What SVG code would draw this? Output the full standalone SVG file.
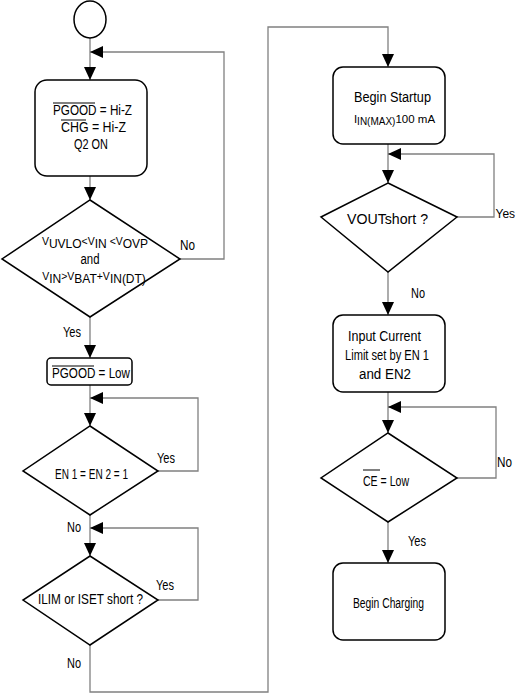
<svg xmlns="http://www.w3.org/2000/svg" width="517" height="694" viewBox="0 0 517 694">
<style>
.shape{fill:#fff;stroke:#000;stroke-width:1.5}
.conn{fill:none;stroke:#808080;stroke-width:1.3}
.ol{stroke:#000;stroke-width:1}
text{font-family:"Liberation Sans",Arial,sans-serif;fill:#000}
.t{font-size:14px;text-anchor:middle}
.c{font-size:12px;text-anchor:middle}
.lbl{font-size:14px}
.sm{font-size:10.5px}
</style>
<defs>
<marker id="ah" markerUnits="userSpaceOnUse" markerWidth="13" markerHeight="12" refX="13" refY="6" orient="auto">
<path d="M0,0 L13,6 L0,12 z" fill="#000"/>
</marker>
</defs>
<rect width="517" height="694" fill="#fff"/>
<g id="connectors">
<path class="conn" d="M90,38 V80" marker-end="url(#ah)"/>
<path class="conn" d="M90,176 V200" marker-end="url(#ah)"/>
<path class="conn" d="M180,259 H224 V52 H90" marker-end="url(#ah)"/>
<path class="conn" d="M90,317 V358" marker-end="url(#ah)"/>
<path class="conn" d="M90,385 V426" marker-end="url(#ah)"/>
<path class="conn" d="M158,471 H198 V398 H90" marker-end="url(#ah)"/>
<path class="conn" d="M90,515 V556" marker-end="url(#ah)"/>
<path class="conn" d="M158,600 H198 V528 H90" marker-end="url(#ah)"/>
<path class="conn" d="M90,645 V692 H268 V27 H388 V67" marker-end="url(#ah)"/>
<path class="conn" d="M388,144 V183" marker-end="url(#ah)"/>
<path class="conn" d="M457,217 H494 V154 H388" marker-end="url(#ah)"/>
<path class="conn" d="M388,272 V315" marker-end="url(#ah)"/>
<path class="conn" d="M388,392 V433" marker-end="url(#ah)"/>
<path class="conn" d="M457,478 H496 V407 H388" marker-end="url(#ah)"/>
<path class="conn" d="M388,522 V563" marker-end="url(#ah)"/>
<text class="lbl" x="180" y="250" textLength="15" lengthAdjust="spacingAndGlyphs">No</text>
<text class="lbl" x="63" y="337" textLength="18" lengthAdjust="spacingAndGlyphs">Yes</text>
<text class="lbl" x="157" y="463" textLength="18" lengthAdjust="spacingAndGlyphs">Yes</text>
<text class="lbl" x="67" y="532" textLength="14" lengthAdjust="spacingAndGlyphs">No</text>
<text class="lbl" x="156" y="590" textLength="18" lengthAdjust="spacingAndGlyphs">Yes</text>
<text class="lbl" x="67" y="668" textLength="14" lengthAdjust="spacingAndGlyphs">No</text>
<text x="495.5" y="218" font-size="12">Yes</text>
<text class="lbl" x="411" y="298" textLength="14" lengthAdjust="spacingAndGlyphs">No</text>
<text class="lbl" x="497" y="467" textLength="15" lengthAdjust="spacingAndGlyphs">No</text>
<text class="lbl" x="408" y="546" textLength="18" lengthAdjust="spacingAndGlyphs">Yes</text>
</g>
<g id="start">
<ellipse class="shape" cx="90" cy="19.5" rx="16" ry="18.5"/>
</g>
<g id="init">
<rect class="shape" x="35" y="80" width="112" height="96" rx="12"/>
<text class="t" x="92.5" y="115" textLength="79" lengthAdjust="spacingAndGlyphs">PGOOD = Hi-Z</text>
<line class="ol" x1="53" y1="103" x2="95" y2="103"/>
<text class="t" x="93.5" y="132" textLength="65" lengthAdjust="spacingAndGlyphs">CHG = Hi-Z</text>
<line class="ol" x1="61" y1="120" x2="86" y2="120"/>
<text class="t" x="91" y="149" textLength="34" lengthAdjust="spacingAndGlyphs">Q2 ON</text>
</g>
<g id="vin-check">
<polygon class="shape" points="90,200 180,259 90,317 2,259"/>
<text class="c" x="95" y="248"><tspan class="sm" dy="-3">V</tspan><tspan dy="3">UVLO</tspan><tspan class="sm" dy="-3">&lt;V</tspan><tspan dy="3">IN</tspan><tspan class="sm" dy="-3"> &lt;V</tspan><tspan dy="3">OVP</tspan></text>
<text class="t" x="90" y="264" textLength="19" lengthAdjust="spacingAndGlyphs">and</text>
<text class="c" x="94" y="283"><tspan class="sm" dy="-3">V</tspan><tspan dy="3">IN</tspan><tspan class="sm" dy="-3">&gt;V</tspan><tspan dy="3">BAT</tspan><tspan class="sm" dy="-3">+V</tspan><tspan dy="3">IN(DT)</tspan></text>
</g>
<g id="pgood-low">
<rect class="shape" x="47" y="358" width="85" height="27" rx="4"/>
<text class="t" x="91" y="378" textLength="78" lengthAdjust="spacingAndGlyphs">PGOOD = Low</text>
<line class="ol" x1="52" y1="366" x2="94" y2="366"/>
</g>
<g id="en-check">
<polygon class="shape" points="90,426 158,471 90,515 23,471"/>
<text class="t" x="91.5" y="479" textLength="73" lengthAdjust="spacingAndGlyphs">EN 1 = EN 2 = 1</text>
</g>
<g id="short-check">
<polygon class="shape" points="90,556 158,600 90,645 23,600"/>
<text class="t" x="90.5" y="604" textLength="105" lengthAdjust="spacingAndGlyphs">ILIM or ISET short  ?</text>
</g>
<g id="startup">
<rect class="shape" x="333" y="67" width="112" height="77" rx="10"/>
<text class="t" x="392.5" y="102" textLength="77" lengthAdjust="spacingAndGlyphs">Begin Startup</text>
<text x="394.5" y="123" font-size="11.5" text-anchor="middle">I<tspan font-size="10" dy="2">IN(MAX)</tspan><tspan dy="-2">100 mA</tspan></text>
</g>
<g id="vout-check">
<polygon class="shape" points="388,183 457,217 388,272 321,217"/>
<text class="t" x="387.5" y="224" textLength="81" lengthAdjust="spacingAndGlyphs">VOUTshort ?</text>
</g>
<g id="input-limit">
<rect class="shape" x="333" y="315" width="112" height="77" rx="10"/>
<text class="t" x="384.5" y="341" textLength="73" lengthAdjust="spacingAndGlyphs">Input Current</text>
<text class="t" x="387" y="360" textLength="84" lengthAdjust="spacingAndGlyphs">Limit set by EN 1</text>
<text class="t" x="385" y="379" textLength="52" lengthAdjust="spacingAndGlyphs">and EN2</text>
</g>
<g id="ce-check">
<polygon class="shape" points="388,433 457,478 388,522 321,478"/>
<text class="t" x="386" y="486" textLength="46" lengthAdjust="spacingAndGlyphs">CE = Low</text>
<line class="ol" x1="363" y1="470" x2="380" y2="470"/>
</g>
<g id="charging">
<rect class="shape" x="333" y="563" width="112" height="77" rx="10"/>
<text class="t" x="388.5" y="608" textLength="71" lengthAdjust="spacingAndGlyphs">Begin Charging</text>
</g>
</svg>
